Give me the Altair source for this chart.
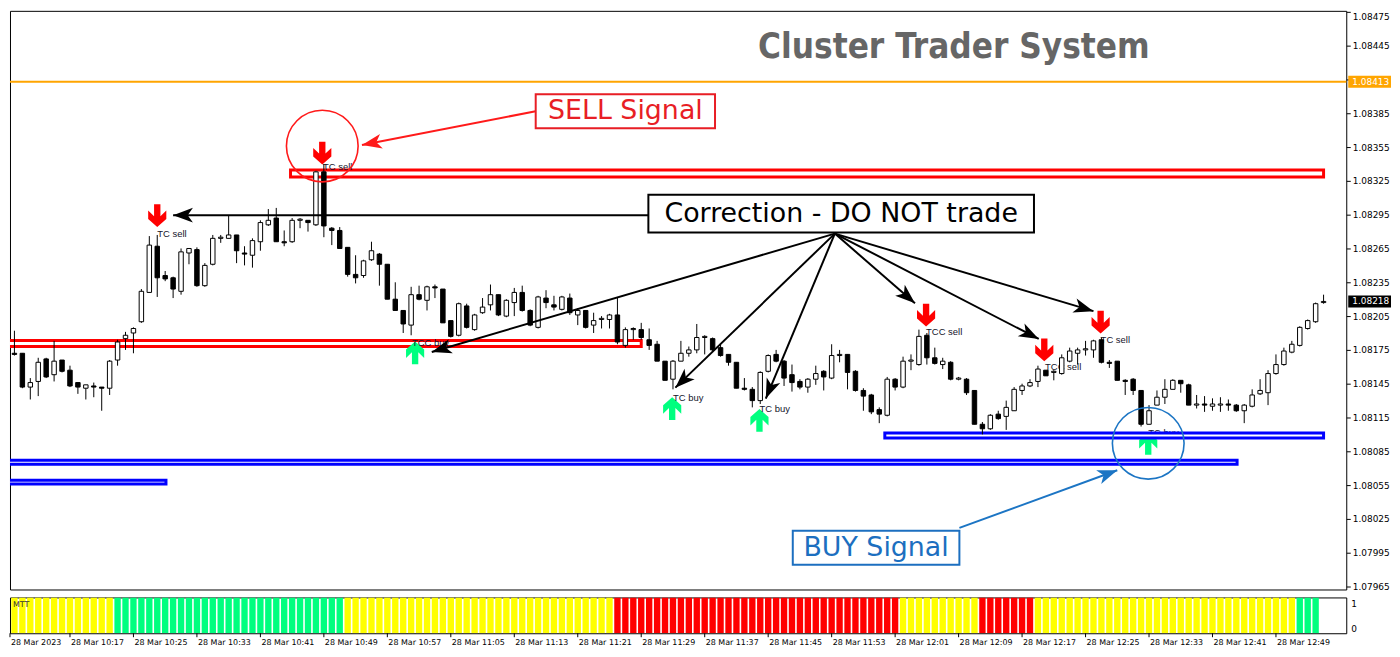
import math
import altair as alt
import pandas as pd

# ---------------- layout ----------------
W, H_MAIN, H_IND = 1344, 582, 36
X_MIN, X_MAX = 0.44, 168.86          # bar index range shown (1-minute bars from 10:09)
Y_MIN, Y_MAX = 1.0796237, 1.084759   # price range shown

# ---------------- candle data (EURUSD M1, 28 Mar 2023, from 10:09) ----------------
opens = [1.08135, 1.08172, 1.08172, 1.08142, 1.08147, 1.08167, 1.08153, 1.08166, 1.08157, 1.08146,
         1.08141, 1.08143, 1.08142, 1.08141, 1.08166, 1.08185, 1.08190, 1.08200, 1.08226, 1.08267,
         1.08241, 1.08239, 1.08227, 1.08261, 1.08264, 1.08232, 1.08251, 1.08274, 1.08274, 1.08277,
         1.08261, 1.08259, 1.08271, 1.08286, 1.08292, 1.08271, 1.08271, 1.08290, 1.08290, 1.08286,
         1.08333, 1.08283, 1.08281, 1.08266, 1.08242, 1.08241, 1.08255, 1.08260, 1.08251, 1.08220,
         1.08210, 1.08197, 1.08224, 1.08219, 1.08231, 1.08229, 1.08201, 1.08188, 1.08214, 1.08193,
         1.08208, 1.08215, 1.08224, 1.08205, 1.08217, 1.08226, 1.08210, 1.08195, 1.08221, 1.08215,
         1.08211, 1.08221, 1.08206, 1.08210, 1.08197, 1.08202, 1.08202, 1.08206, 1.08179, 1.08193,
         1.08193, 1.08184, 1.08180, 1.08165, 1.08149, 1.08165, 1.08172, 1.08175, 1.08186, 1.08185,
         1.08177, 1.08171, 1.08164, 1.08141, 1.08140, 1.08130, 1.08156, 1.08171, 1.08165, 1.08153,
         1.08147, 1.08142, 1.08149, 1.08156, 1.08150, 1.08170, 1.08171, 1.08156, 1.08139, 1.08135,
         1.08122, 1.08117, 1.08149, 1.08142, 1.08165, 1.08162, 1.08188, 1.08168, 1.08162, 1.08164,
         1.08149, 1.08149, 1.08139, 1.08109, 1.08105, 1.08118, 1.08116, 1.08121, 1.08139, 1.08143,
         1.08147, 1.08157, 1.08155, 1.08154, 1.08165, 1.08172, 1.08175, 1.08175, 1.08184, 1.08164,
         1.08165, 1.08148, 1.08149, 1.08139, 1.08109, 1.08126, 1.08133, 1.08140, 1.08148, 1.08144,
         1.08126, 1.08127, 1.08125, 1.08126, 1.08127, 1.08126, 1.08121, 1.08125, 1.08136, 1.08137,
         1.08154, 1.08162, 1.08173, 1.08179, 1.08194, 1.08200, 1.08217]
highs = [1.08192, 1.08192, 1.08172, 1.08150, 1.08168, 1.08168, 1.08183, 1.08166, 1.08161, 1.08146,
         1.08144, 1.08146, 1.08142, 1.08166, 1.08184, 1.08191, 1.08195, 1.08229, 1.08276, 1.08277,
         1.08245, 1.08240, 1.08265, 1.08265, 1.08266, 1.08252, 1.08277, 1.08277, 1.08294, 1.08277,
         1.08267, 1.08274, 1.08290, 1.08300, 1.08301, 1.08281, 1.08292, 1.08292, 1.08290, 1.08334,
         1.08340, 1.08284, 1.08284, 1.08266, 1.08259, 1.08255, 1.08271, 1.08261, 1.08251, 1.08235,
         1.08210, 1.08231, 1.08232, 1.08232, 1.08233, 1.08229, 1.08201, 1.08217, 1.08216, 1.08207,
         1.08221, 1.08233, 1.08224, 1.08220, 1.08230, 1.08232, 1.08211, 1.08223, 1.08228, 1.08223,
         1.08223, 1.08225, 1.08212, 1.08210, 1.08208, 1.08205, 1.08207, 1.08222, 1.08195, 1.08195,
         1.08199, 1.08194, 1.08183, 1.08165, 1.08166, 1.08183, 1.08178, 1.08198, 1.08188, 1.08186,
         1.08180, 1.08171, 1.08164, 1.08150, 1.08142, 1.08156, 1.08171, 1.08175, 1.08166, 1.08162,
         1.08149, 1.08150, 1.08161, 1.08157, 1.08180, 1.08175, 1.08171, 1.08157, 1.08141, 1.08136,
         1.08124, 1.08151, 1.08150, 1.08169, 1.08171, 1.08193, 1.08190, 1.08177, 1.08168, 1.08165,
         1.08151, 1.08150, 1.08139, 1.08111, 1.08118, 1.08121, 1.08130, 1.08142, 1.08145, 1.08149,
         1.08161, 1.08157, 1.08157, 1.08171, 1.08177, 1.08177, 1.08183, 1.08184, 1.08186, 1.08166,
         1.08165, 1.08149, 1.08150, 1.08139, 1.08126, 1.08139, 1.08149, 1.08149, 1.08148, 1.08145,
         1.08135, 1.08134, 1.08132, 1.08133, 1.08131, 1.08127, 1.08127, 1.08140, 1.08149, 1.08157,
         1.08171, 1.08177, 1.08183, 1.08196, 1.08202, 1.08217, 1.08224]
lows = [1.08135, 1.08170, 1.08141, 1.08131, 1.08134, 1.08150, 1.08147, 1.08155, 1.08142, 1.08136,
        1.08131, 1.08133, 1.08121, 1.08135, 1.08161, 1.08175, 1.08172, 1.08199, 1.08226, 1.08222,
        1.08236, 1.08221, 1.08224, 1.08251, 1.08231, 1.08231, 1.08250, 1.08270, 1.08274, 1.08252,
        1.08250, 1.08248, 1.08263, 1.08285, 1.08271, 1.08267, 1.08270, 1.08283, 1.08280, 1.08285,
        1.08275, 1.08268, 1.08265, 1.08240, 1.08234, 1.08239, 1.08254, 1.08232, 1.08220, 1.08210,
        1.08190, 1.08188, 1.08219, 1.08210, 1.08221, 1.08199, 1.08186, 1.08187, 1.08194, 1.08192,
        1.08207, 1.08210, 1.08205, 1.08204, 1.08205, 1.08209, 1.08196, 1.08194, 1.08212, 1.08210,
        1.08210, 1.08206, 1.08197, 1.08194, 1.08190, 1.08194, 1.08194, 1.08180, 1.08177, 1.08184,
        1.08184, 1.08175, 1.08165, 1.08148, 1.08140, 1.08165, 1.08169, 1.08172, 1.08171, 1.08174,
        1.08169, 1.08161, 1.08141, 1.08139, 1.08124, 1.08127, 1.08155, 1.08164, 1.08143, 1.08138,
        1.08140, 1.08137, 1.08144, 1.08139, 1.08149, 1.08164, 1.08140, 1.08138, 1.08121, 1.08118,
        1.08110, 1.08116, 1.08139, 1.08141, 1.08157, 1.08161, 1.08162, 1.08162, 1.08158, 1.08148,
        1.08148, 1.08135, 1.08109, 1.08100, 1.08104, 1.08113, 1.08104, 1.08121, 1.08135, 1.08142,
        1.08142, 1.08152, 1.08148, 1.08153, 1.08164, 1.08162, 1.08170, 1.08168, 1.08163, 1.08159,
        1.08148, 1.08135, 1.08135, 1.08107, 1.08109, 1.08126, 1.08127, 1.08140, 1.08137, 1.08126,
        1.08123, 1.08120, 1.08121, 1.08120, 1.08121, 1.08120, 1.08110, 1.08124, 1.08135, 1.08126,
        1.08153, 1.08161, 1.08172, 1.08178, 1.08193, 1.08199, 1.08216]
closes = [1.08175, 1.08171, 1.08142, 1.08146, 1.08164, 1.08151, 1.08165, 1.08156, 1.08143, 1.08142,
          1.08144, 1.08142, 1.08141, 1.08165, 1.08182, 1.08188, 1.08194, 1.08227, 1.08268, 1.08239,
          1.08238, 1.08229, 1.08262, 1.08265, 1.08232, 1.08250, 1.08274, 1.08275, 1.08277, 1.08263,
          1.08260, 1.08272, 1.08288, 1.08290, 1.08271, 1.08270, 1.08290, 1.08291, 1.08288, 1.08333,
          1.08285, 1.08281, 1.08265, 1.08242, 1.08239, 1.08254, 1.08263, 1.08251, 1.08220, 1.08210,
          1.08198, 1.08224, 1.08220, 1.08231, 1.08230, 1.08199, 1.08187, 1.08216, 1.08195, 1.08206,
          1.08213, 1.08224, 1.08206, 1.08219, 1.08226, 1.08210, 1.08197, 1.08222, 1.08217, 1.08213,
          1.08222, 1.08208, 1.08210, 1.08195, 1.08201, 1.08203, 1.08206, 1.08182, 1.08193, 1.08194,
          1.08186, 1.08179, 1.08165, 1.08148, 1.08165, 1.08172, 1.08175, 1.08186, 1.08187, 1.08175,
          1.08170, 1.08164, 1.08141, 1.08140, 1.08130, 1.08155, 1.08170, 1.08165, 1.08150, 1.08146,
          1.08142, 1.08149, 1.08154, 1.08151, 1.08170, 1.08171, 1.08155, 1.08139, 1.08134, 1.08120,
          1.08118, 1.08149, 1.08142, 1.08165, 1.08166, 1.08187, 1.08168, 1.08163, 1.08165, 1.08149,
          1.08150, 1.08137, 1.08109, 1.08105, 1.08117, 1.08114, 1.08124, 1.08140, 1.08143, 1.08146,
          1.08158, 1.08152, 1.08156, 1.08168, 1.08174, 1.08175, 1.08176, 1.08183, 1.08164, 1.08163,
          1.08148, 1.08147, 1.08139, 1.08109, 1.08121, 1.08133, 1.08140, 1.08148, 1.08145, 1.08126,
          1.08127, 1.08126, 1.08127, 1.08127, 1.08126, 1.08121, 1.08126, 1.08135, 1.08139, 1.08154,
          1.08162, 1.08174, 1.08180, 1.08195, 1.08201, 1.08216, 1.08218]

# MTT indicator: colour runs (colour, number of bars)
mtt_runs = [("#FFFF00", 14), ("#00FF7F", 29), ("#FFFF00", 34), ("#FF0000", 36),
            ("#FFFF00", 10), ("#FF0000", 7), ("#FFFF00", 33), ("#00FF7F", 3)]

# axes
price_ticks = [1.08475, 1.08445, 1.08415, 1.08385, 1.08355, 1.08325, 1.08295, 1.08265, 1.08235,
               1.08205, 1.08175, 1.08145, 1.08115, 1.08085, 1.08055, 1.08025, 1.07995, 1.07965]
time_ticks = [0, 8, 16, 24, 32, 40, 48, 56, 64, 72, 80, 88, 96, 104, 112, 120, 128, 136, 144, 152, 160]
time_labels = ["28 Mar 2023", "28 Mar 10:17", "28 Mar 10:25", "28 Mar 10:33", "28 Mar 10:41",
               "28 Mar 10:49", "28 Mar 10:57", "28 Mar 11:05", "28 Mar 11:13", "28 Mar 11:21",
               "28 Mar 11:29", "28 Mar 11:37", "28 Mar 11:45", "28 Mar 11:53", "28 Mar 12:01",
               "28 Mar 12:09", "28 Mar 12:17", "28 Mar 12:25", "28 Mar 12:33", "28 Mar 12:41",
               "28 Mar 12:49"]
orange_level = 1.08413
bid_level = 1.08218

# signals (bar index, price)
sell_arrow_i = [19.0, 39.8, 115.9, 130.8, 137.9]
sell_arrow_p = [1.082941, 1.083497, 1.082059, 1.081750, 1.081997]
sell_text = ["TC sell", "TC sell", "TCC sell", "TCC sell", "TC sell"]
sell_text_i = [19.0, 39.9, 115.9, 130.9, 137.9]
sell_text_p = [1.082774, 1.083374, 1.081909, 1.081600, 1.081838]
buy_arrow_i = [51.5, 83.9, 94.9, 143.9]
buy_arrow_p = [1.081724, 1.081229, 1.081124, 1.080921]
buy_text = ["TCC buy", "TC buy", "TC buy", "TC buy"]
buy_text_i = [51.1, 84.0, 94.9, 143.9]
buy_text_p = [1.081812, 1.081327, 1.081221, 1.081009]

# cluster zones (start bar, end bar, low, high)
red_zone_start = [35.8, -0.5]
red_zone_end = [166.0, 80.0]
red_zone_lo = [1.083285, 1.081781]
red_zone_hi = [1.083347, 1.081834]
blue_zone_start = [110.7, -0.5, -0.5]
blue_zone_end = [166.0, 155.1, 20.1]
blue_zone_lo = [1.080969, 1.080735, 1.080559]
blue_zone_hi = [1.081013, 1.080771, 1.080594]

# annotations
box_text = ["SELL Signal", "Correction - DO NOT trade", "BUY Signal"]
box_color = ["#E81E25", "#000000", "#1C6FC0"]
box_i0 = [66.7, 80.9, 99.1]
box_i1 = [89.3, 129.5, 120.1]
box_p0 = [1.083718, 1.082791, 1.079844]
box_p1 = [1.084018, 1.083127, 1.080144]
box_ti = [78.0, 105.2, 109.6]
box_tp = [1.083868, 1.082959, 1.079994]

arrow_si = [66.7, 80.9, 104.4, 104.4, 104.4, 104.4, 104.4, 104.4, 120.1]
arrow_sp = [1.083868, 1.082946, 1.082782, 1.082782, 1.082782, 1.082782, 1.082782, 1.082782, 1.080170]
arrow_ti = [44.8, 21.0, 53.6, 84.3, 95.7, 114.5, 130.1, 137.0, 140.0]
arrow_tp = [1.083568, 1.082946, 1.081732, 1.081415, 1.081318, 1.082165, 1.081847, 1.082094, 1.080682]
arrow_col = ["#FF1A1A", "#000000", "#000000", "#000000", "#000000", "#000000", "#000000", "#000000", "#1C75C4"]

circle_i = [39.8, 143.9]
circle_p = [1.083559, 1.080921]
circle_col = ["#FF1A1A", "#1C75C4"]

title_text = "Cluster Trader System"
title_i, title_p = 119.4, 1.084344

# ---------------- helpers ----------------
xs = alt.Scale(domain=[X_MIN, X_MAX], nice=False, zero=False)
ys = alt.Scale(domain=[Y_MIN, Y_MAX], nice=False, zero=False)
TOP_TEST = "datum.value > 1.0847"
price_axis = alt.Axis(orient="right", values=price_ticks, format=".5f", title=None, grid=False,
                      domain=False, ticks=True, tickSize=4, tickColor="black", tickWidth=1,
                      labelFont="DejaVu Sans", labelFontSize=9, labelColor="black",
                      labelPadding=2, labelOverlap=False, labelFlush=False, labelBound=False,
                      labelBaseline={"condition": {"test": TOP_TEST, "value": "top"}, "value": "middle"},
                      labelOffset={"condition": {"test": TOP_TEST, "value": 1}, "value": 0})


def X(f):
    return alt.X(f, type="quantitative", scale=xs, axis=None)


def Y(f):
    return alt.Y(f, type="quantitative", scale=ys, axis=price_axis)


PX_I = W / (X_MAX - X_MIN)
PX_P = H_MAIN / (Y_MAX - Y_MIN)

SELL_PATH = "M-0.28,-1L0.28,-1L0.28,0.05L0.8,-0.45L0.8,0.3L0,1L-0.8,0.3L-0.8,-0.45L-0.28,0.05Z"
BUY_PATH = "M-0.28,1L0.28,1L0.28,-0.05L0.8,0.45L0.8,-0.3L0,-1L-0.8,-0.3L-0.8,0.45L-0.28,-0.05Z"
HEAD_PATH = "M0,0L0.7,1.9L0,1.4L-0.7,1.9Z"

# ---------------- data frames ----------------
cd = pd.DataFrame({"i": list(range(len(opens))), "o": opens, "h": highs, "l": lows, "c": closes})
cd["x0"] = cd["i"] - 0.28
cd["x1"] = cd["i"] + 0.28
cd["fill"] = ["white" if c >= o else "black" for o, c in zip(cd["o"], cd["c"])]

mtt_colors = []
for col, n in mtt_runs:
    mtt_colors += [col] * n
ind = pd.DataFrame({"i": list(range(len(mtt_colors))), "col": mtt_colors})
ind["x0"] = ind["i"] - 0.4
ind["x1"] = ind["i"] + 0.4
ind["y0"] = 0.0
ind["y1"] = 1.0

red_z = pd.DataFrame({"a": red_zone_start, "b": red_zone_end, "lo": red_zone_lo, "hi": red_zone_hi})
blue_z = pd.DataFrame({"a": blue_zone_start, "b": blue_zone_end, "lo": blue_zone_lo, "hi": blue_zone_hi})

sell_a = pd.DataFrame({"i": sell_arrow_i, "p": sell_arrow_p})
sell_t = pd.DataFrame({"i": sell_text_i, "p": sell_text_p, "t": sell_text})
buy_a = pd.DataFrame({"i": buy_arrow_i, "p": buy_arrow_p})
buy_t = pd.DataFrame({"i": buy_text_i, "p": buy_text_p, "t": buy_text})

boxes = pd.DataFrame({"i0": box_i0, "i1": box_i1, "p0": box_p0, "p1": box_p1,
                      "ti": box_ti, "tp": box_tp, "t": box_text, "col": box_color})

angles = []
for si, sp, ti, tp in zip(arrow_si, arrow_sp, arrow_ti, arrow_tp):
    dx = (ti - si) * PX_I
    dy = -(tp - sp) * PX_P
    angles.append(math.degrees(math.atan2(dx, -dy)) % 360)
arrows = pd.DataFrame({"si": arrow_si, "sp": arrow_sp, "ti": arrow_ti, "tp": arrow_tp,
                       "col": arrow_col, "ang": angles})
circles = pd.DataFrame({"i": circle_i, "p": circle_p, "col": circle_col})
title_df = pd.DataFrame({"i": [title_i], "p": [title_p], "t": [title_text]})

levels = pd.DataFrame({"p": [orange_level]})
hl = pd.DataFrame({"p": [orange_level, bid_level], "bg": ["#FFA500", "#000000"],
                   "t": [f"{orange_level:.5f}", f"{bid_level:.5f}"]})
hl["lo"] = hl["p"] - 0.000053
hl["hi"] = hl["p"] + 0.000053

tt = pd.DataFrame({"t": [max(v, X_MIN) for v in time_ticks], "lab": time_labels})

# ---------------- main panel ----------------
orange = alt.Chart(levels).mark_rule(color="#FFA500", strokeWidth=2).encode(y=Y("p"))

red_zones = alt.Chart(red_z).mark_rect(fill="white", stroke="#FF0000", strokeWidth=3, clip=True).encode(
    x=X("a"), x2="b", y=Y("lo"), y2="hi")
blue_zones = alt.Chart(blue_z).mark_rect(fill="white", stroke="#0000FF", strokeWidth=3, clip=True).encode(
    x=X("a"), x2="b", y=Y("lo"), y2="hi")

sell_arrows = alt.Chart(sell_a).mark_point(shape=SELL_PATH, filled=True, fill="#FF0000", size=520,
                                           opacity=1, strokeWidth=0).encode(x=X("i"), y=Y("p"))
buy_arrows = alt.Chart(buy_a).mark_point(shape=BUY_PATH, filled=True, fill="#00FF7F", size=520,
                                         opacity=1, strokeWidth=0).encode(x=X("i"), y=Y("p"))
sig_font = dict(align="left", baseline="middle", font="Liberation Sans", fontSize=9.5, color="#14142a")
sell_labels = alt.Chart(sell_t).mark_text(**sig_font).encode(x=X("i"), y=Y("p"), text="t:N")
buy_labels = alt.Chart(buy_t).mark_text(**sig_font).encode(x=X("i"), y=Y("p"), text="t:N")

wicks = alt.Chart(cd).mark_rule(color="black", strokeWidth=1, clip=True).encode(x=X("i"), y=Y("l"), y2="h")
bodies = alt.Chart(cd).mark_rect(stroke="black", strokeWidth=1, clip=True).encode(
    x=X("x0"), x2="x1", y=Y("o"), y2="c", fill=alt.Fill("fill:N", scale=None))

circ = alt.Chart(circles).mark_point(shape="circle", filled=False, size=5200, strokeWidth=1.6,
                                     opacity=1).encode(x=X("i"), y=Y("p"), stroke=alt.Stroke("col:N", scale=None))

arrow_lines = alt.Chart(arrows).mark_rule(strokeWidth=2).encode(
    x=X("si"), x2="ti", y=Y("sp"), y2="tp", color=alt.Color("col:N", scale=None))
arrow_heads = alt.Chart(arrows).mark_point(shape=HEAD_PATH, filled=True, size=440, opacity=1,
                                           strokeWidth=0).encode(
    x=X("ti"), y=Y("tp"), angle=alt.Angle("ang:Q", scale=None), fill=alt.Fill("col:N", scale=None))

box_rects = alt.Chart(boxes).mark_rect(fill="white", strokeWidth=2).encode(
    x=X("i0"), x2="i1", y=Y("p0"), y2="p1", stroke=alt.Stroke("col:N", scale=None))
box_texts = alt.Chart(boxes).mark_text(font="DejaVu Sans", fontSize=27, align="center",
                                       baseline="middle").encode(
    x=X("ti"), y=Y("tp"), text="t:N", color=alt.Color("col:N", scale=None))

title = alt.Chart(title_df).mark_text(font="DejaVu Sans Condensed", fontWeight="bold", fontSize=35,
                                      color="#666666", align="center", baseline="alphabetic").encode(
    x=X("i"), y=Y("p"), text="t:N")

hl_rect = alt.Chart(hl).mark_rect().encode(
    x=alt.value(W + 2), x2=alt.value(W + 45), y=Y("lo"), y2="hi", fill=alt.Fill("bg:N", scale=None))
hl_text = alt.Chart(hl).mark_text(align="left", baseline="middle", font="DejaVu Sans", fontSize=9,
                                  color="white").encode(x=alt.value(W + 6), y=Y("p"), text="t:N")

main = alt.layer(
    orange, red_zones, sell_arrows, buy_arrows, sell_labels, buy_labels, blue_zones,
    wicks, bodies, circ, arrow_lines, arrow_heads, box_rects, box_texts, title, hl_rect, hl_text
).properties(width=W, height=H_MAIN)

# ---------------- indicator panel ----------------
ys_ind = alt.Scale(domain=[0, 1], nice=False, zero=False)
ind_bars = alt.Chart(ind).mark_rect(clip=True).encode(
    x=X("x0"), x2="x1", y=alt.Y("y0:Q", scale=ys_ind, axis=None), y2="y1",
    fill=alt.Fill("col:N", scale=None))
tick_rules = alt.Chart(tt).mark_rule(color="black").encode(
    x=X("t"), y=alt.value(H_IND), y2=alt.value(H_IND + 4))
tick_labels = alt.Chart(tt).mark_text(align="left", baseline="middle", font="DejaVu Sans",
                                      fontSize=8, color="black", dx=1).encode(
    x=X("t"), y=alt.value(H_IND + 10), text="lab:N")
mtt_label = alt.Chart(pd.DataFrame({"t": ["MTT"]})).mark_text(
    align="left", baseline="middle", font="DejaVu Sans", fontSize=8, color="#333333").encode(
    x=alt.value(3), y=alt.value(8), text="t:N")
ind_scale_labels = alt.Chart(pd.DataFrame({"t": ["1", "0"], "k": [0, 1]})).mark_text(
    align="left", baseline="middle", font="DejaVu Sans", fontSize=9, color="black").encode(
    x=alt.value(W + 5), y=alt.Y("k:Q", scale=alt.Scale(domain=[0, 1], range=[7, H_IND - 4]), axis=None),
    text="t:N")

indicator = alt.layer(ind_bars, tick_rules, tick_labels, mtt_label, ind_scale_labels).resolve_scale(
    y="independent").properties(width=W, height=H_IND)

chart = alt.vconcat(main, indicator, spacing=4).properties(
    padding=0, background="white"
).configure_view(stroke="black", strokeWidth=1)

chart.save("out.html", embed_options={"renderer": "svg", "actions": False})
